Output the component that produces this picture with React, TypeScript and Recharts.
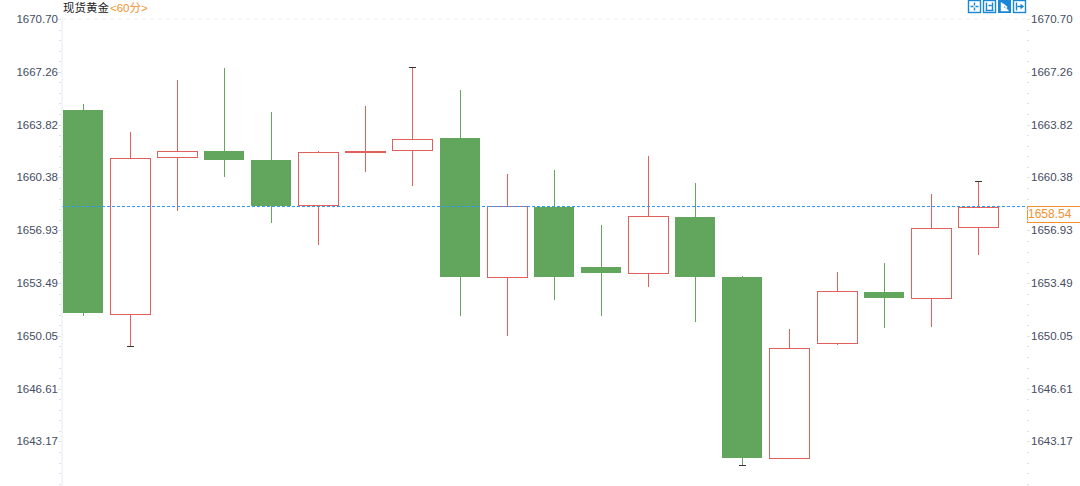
import { Bar, ComposedChart, ReferenceLine, XAxis, YAxis } from 'recharts'

const opens = [1664.77, 1651.48, 1661.71, 1662.1, 1661.51, 1658.58, 1662.03, 1662.16, 1662.95, 1653.89, 1658.45, 1654.54, 1654.15, 1657.8, 1653.89, 1642.1, 1649.59, 1652.91, 1652.52, 1657.15]
const closes = [1651.54, 1661.64, 1662.1, 1661.51, 1658.52, 1662.03, 1662.1, 1662.88, 1653.89, 1658.52, 1653.89, 1654.15, 1657.86, 1653.89, 1642.1, 1649.26, 1652.98, 1652.52, 1657.08, 1658.45]
const highs = [1665.16, 1663.34, 1666.73, 1667.51, 1664.64, 1662.1, 1665.03, 1667.57, 1666.07, 1660.6, 1660.86, 1657.28, 1661.77, 1660.01, 1653.95, 1650.5, 1654.21, 1654.8, 1659.3, 1660.14]
const lows = [1651.35, 1649.39, 1658.19, 1660.4, 1657.41, 1655.97, 1660.73, 1659.82, 1651.35, 1650.04, 1652.39, 1651.35, 1653.24, 1650.96, 1641.64, 1642.03, 1649.46, 1650.57, 1650.63, 1655.32]

// candles that carry the little black extreme marker
const markedHighs = [7, 19]
const markedLows = [1, 14]

const priceTicks = [1670.7, 1667.26, 1663.82, 1660.38, 1656.93, 1653.49, 1650.05, 1646.61, 1643.17]
const minorTicks = [
  1670.01, 1669.32, 1668.63, 1667.95, 1666.57, 1665.88, 1665.2, 1664.51, 1663.13, 1662.44, 1661.75, 1661.07,
  1659.69, 1659.0, 1658.31, 1657.62, 1656.24, 1655.55, 1654.87, 1654.18, 1652.8, 1652.11, 1651.43, 1650.74,
  1649.36, 1648.67, 1647.99, 1647.3, 1645.92, 1645.23, 1644.55, 1643.86, 1642.48, 1641.8, 1641.11, 1640.42,
]
const lastPrice = 1658.54
const title = '现货黄金'
const period = '<60分>'

const UP = '#e2605c'
const DOWN = '#62a65d'
const AXIS = '#e4eaf2'
const LABEL = '#444d62'
const ORANGE = '#f4912f'
const BLUE = '#1a87d6'

const data = opens.map((open, i) => ({
  slot: `c${i}`,
  index: i,
  open,
  close: closes[i],
  high: highs[i],
  low: lows[i],
}))

const range = (d: (typeof data)[number]) => [d.low, d.high]

function Candle(props: any) {
  const { x, y, width, height, payload } = props
  const { open, close, high, low, index } = payload
  const perUnit = height / (high - low)
  const yOf = (v: number) => y + (high - v) * perUnit
  const rising = close >= open
  const color = rising ? UP : DOWN
  const top = Math.round(yOf(Math.max(open, close)))
  const bottom = Math.round(yOf(Math.min(open, close)))
  const left = Math.round(x)
  const mid = left + Math.floor(width / 2) + 0.5
  const hi = Math.round(y)
  const lo = Math.round(y + height)
  return (
    <g>
      <line x1={mid} x2={mid} y1={hi} y2={top} stroke={color} />
      <line x1={mid} x2={mid} y1={bottom} y2={lo} stroke={color} />
      {rising ? (
        <rect x={left + 0.5} y={top + 0.5} width={width} height={Math.max(bottom - top, 1)} fill="#fff" stroke={color} />
      ) : (
        <rect x={left} y={top} width={width} height={Math.max(bottom - top, 1)} fill={color} />
      )}
      {markedHighs.includes(index) && <line x1={mid - 3.5} x2={mid + 3.5} y1={hi + 0.5} y2={hi + 0.5} stroke="#333" />}
      {markedLows.includes(index) && <line x1={mid - 3.5} x2={mid + 3.5} y1={lo + 0.5} y2={lo + 0.5} stroke="#333" />}
    </g>
  )
}

function PriceTick(props: any) {
  const { y, payload, orientation } = props
  const isLeft = orientation === 'left'
  const major = priceTicks.includes(payload.value)
  const py = Math.round(y) + 0.5
  const len = major ? 3 : 2
  return (
    <g>
      <line x1={isLeft ? 61 - len : 1027} x2={isLeft ? 61 : 1027 + len} y1={py} y2={py} stroke="#dbe2ec" />
      {major && (
        <text x={isLeft ? 58 : 1031} y={y + 4} textAnchor={isLeft ? 'end' : 'start'} fontSize={11.5} fill={LABEL}>
          {payload.value.toFixed(2)}
        </text>
      )}
    </g>
  )
}

function LastPriceTag(props: any) {
  const y = props.viewBox.y
  return (
    <g>
      <rect x={1027.5} y={Math.round(y) + 0.5} width={54} height={16} fill="#fff" stroke={ORANGE} />
      <text x={1028} y={y + 12.5} fontSize={12} fill={ORANGE}>
        {lastPrice}
      </text>
    </g>
  )
}

// the library hands over the end points, snapped here so the 1px dashes stay crisp
function LastPriceLine(props: any) {
  const py = Math.round(props.y1 ?? props.y ?? 0) + 0.5
  return <line x1={props.x1} x2={props.x2} y1={py} y2={py} stroke="#2f98f5" strokeDasharray="3 2" />
}

function ToolIcons() {
  return (
    <svg width={60} height={14} style={{ position: 'absolute', left: 967, top: 0 }}>
      <g fill="none" stroke={BLUE} strokeWidth={1.4}>
        <rect x={1.5} y={0.5} width={12} height={12} />
        <path d="M7.5 2.5v3M7.5 7.5v3M3.5 6.5h3M8.5 6.5h3" />
        <rect x={16.5} y={0.5} width={12} height={12} />
        <path d="M19.5 2.5v8M25.5 2.5v8M18.5 10.5h8M21.5 5.5h3" />
        <rect x={31} y={0} width={13} height={13} fill={BLUE} stroke="none" />
        <path d="M34.5 2.5v8h7M36.5 4.5l3 2.5-3 2.5z" fill="#fff" stroke="#fff" />
        <rect x={46.5} y={0.5} width={12} height={12} />
        <path d="M49.5 2.5v8M50.5 6.5h5M53.5 4.5l2.5 2-2.5 2" />
      </g>
    </svg>
  )
}

export default function App() {
  return (
    <div style={{ position: 'absolute', left: 0, top: 0, width: 1080, height: 486, background: '#fff', fontFamily: 'Arial, "Liberation Sans", "Noto Sans CJK SC", sans-serif', overflow: 'hidden' }}>
      <ComposedChart width={1080} height={486} data={data} margin={{ top: 19, right: 0, bottom: 0, left: 0 }}>
        <XAxis dataKey="slot" hide padding={{ left: -3.5, right: 25 }} />
        <YAxis
          yAxisId="left"
          orientation="left"
          width={62}
          domain={[1640.27, 1670.7]}
          allowDataOverflow
          ticks={[...priceTicks, ...minorTicks]}
          interval={0}
          axisLine={{ stroke: AXIS }}
          tickLine={false}
          tick={(p: any) => <PriceTick {...p} orientation="left" />}
        />
        <YAxis
          yAxisId="right"
          orientation="right"
          width={54}
          domain={[1640.27, 1670.7]}
          allowDataOverflow
          ticks={[...priceTicks, ...minorTicks]}
          interval={0}
          axisLine={false}
          tickLine={false}
          tick={(p: any) => <PriceTick {...p} orientation="right" />}
        />
        <ReferenceLine yAxisId="left" y={1670.7} stroke="#eceff3" strokeDasharray="4 4" />
        <Bar yAxisId="left" dataKey={range} barSize={40} shape={Candle} isAnimationActive={false} />
        <ReferenceLine
          yAxisId="left"
          y={lastPrice}
          shape={LastPriceLine}
          label={(p: any) => <LastPriceTag {...p} />}
        />
      </ComposedChart>
      <div style={{ position: 'absolute', left: 63, top: 1, fontSize: 11.5, lineHeight: '14px', color: '#222', whiteSpace: 'nowrap' }}>
        {title}
        <span style={{ color: ORANGE, marginLeft: 1 }}>{period}</span>
      </div>
      <ToolIcons />
    </div>
  )
}
